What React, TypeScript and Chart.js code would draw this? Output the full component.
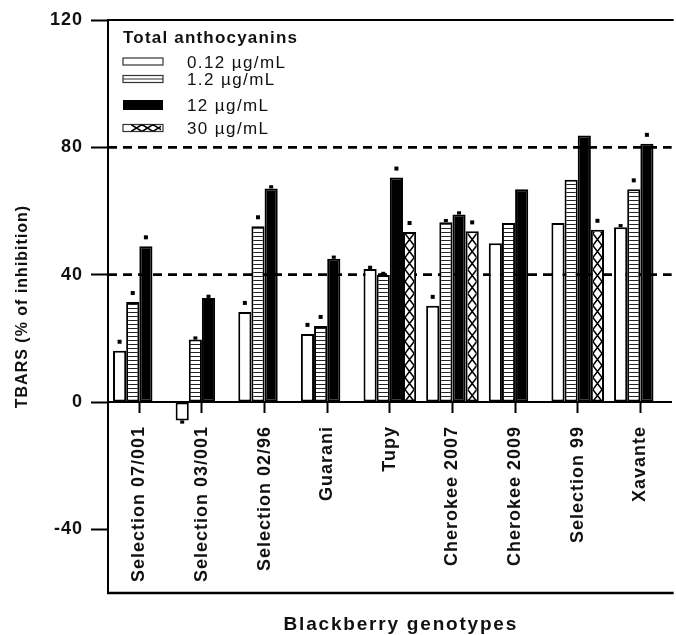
import React, { useEffect, useRef } from "react";
import { Chart, registerables } from "chart.js";

Chart.register(...registerables);

// ---------- data ----------
const genotypes = [
  "Selection 07/001",
  "Selection 03/001",
  "Selection 02/96",
  "Guarani",
  "Tupy",
  "Cherokee 2007",
  "Cherokee 2009",
  "Selection 99",
  "Xavante",
];
const seriesLabels = ["0.12 µg/mL", "1.2 µg/mL", "12 µg/mL", "30 µg/mL"];
const values012 = [16.1, -5.8, 28.3, 21.4, 41.8, 30.2, 49.9, 56.2, 54.9];
const values1_2 = [31.4, 19.6, 55.2, 23.9, 39.9, 56.5, 56.2, 69.8, 66.8];
const values12 = [48.9, 32.7, 67.1, 45.0, 70.5, 58.9, 66.8, 83.7, 81.1];
const values30 = [null, null, null, null, 53.4, 53.6, null, 54.1, null];
// small error caps (same units as the values)
const errors012 = [0, 1, 0, 0, 1, 0, 0, 0, 1];
const errors1_2 = [0, 1, 0, 0, 1, 1, 0, 0, 0];
const errors12 = [0, 1, 1, 1, 0, 1, 0, 0, 0];
const errors30 = [0, 0, 0, 0, 0, 0, 0, 0, 0];
// significance markers (1 = marked)
const signif012 = [1, 0, 1, 1, 0, 1, 0, 0, 0];
const signif1_2 = [1, 0, 1, 1, 0, 0, 0, 0, 1];
const signif12 = [1, 0, 0, 0, 1, 0, 0, 0, 1];
const signif30 = [0, 0, 0, 0, 1, 1, 0, 1, 0];
const yTickValues = [-40, 0, 40, 80, 120];
const referenceLines = [40, 80];
const legendTitle = "Total anthocyanins";
const xAxisTitle = "Blackberry genotypes";
const yAxisTitle = "TBARS (% of inhibition)";

const errorsBySeries = [errors012, errors1_2, errors12, errors30];
const signifBySeries = [signif012, signif1_2, signif12, signif30];

const FONT = 'Arial, "Liberation Sans", Helvetica, sans-serif';

function makeStripePattern(ctx: CanvasRenderingContext2D) {
  const c = document.createElement("canvas");
  c.width = 4;
  c.height = 4;
  const g = c.getContext("2d")!;
  g.fillStyle = "#ffffff";
  g.fillRect(0, 0, 4, 4);
  g.fillStyle = "#222222";
  g.fillRect(0, 0, 4, 1);
  return ctx.createPattern(c, "repeat");
}

function drawCrosses(ctx: any, L: number, T: number, R: number, B: number, cell: number, vertical: boolean) {
  ctx.save();
  ctx.beginPath();
  ctx.rect(L, T, R - L, B - T);
  ctx.clip();
  ctx.strokeStyle = "#000";
  ctx.lineWidth = 1.5;
  ctx.beginPath();
  if (vertical) {
    for (let yy = B; yy > T - cell; yy -= cell) {
      ctx.moveTo(L, yy);
      ctx.lineTo(R, yy - cell);
      ctx.moveTo(R, yy);
      ctx.lineTo(L, yy - cell);
    }
  } else {
    for (let xx = L; xx < R; xx += cell) {
      ctx.moveTo(xx, T);
      ctx.lineTo(xx + cell, B);
      ctx.moveTo(xx + cell, T);
      ctx.lineTo(xx, B);
    }
  }
  ctx.stroke();
  ctx.restore();
}

export default function App() {
  const ref = useRef<HTMLCanvasElement>(null);

  useEffect(() => {
    const canvas = ref.current!;
    const ctx0 = canvas.getContext("2d")!;
    const stripes = makeStripePattern(ctx0);

    const spacing = {
      id: "spacing",
      beforeUpdate(chart: any) {
        chart.ctx.letterSpacing = "1px";
      },
      beforeDraw(chart: any) {
        chart.ctx.letterSpacing = "1px";
      },
    };

    const refLinesPlugin = {
      id: "refLines",
      beforeDatasetsDraw(chart: any) {
        const { ctx, chartArea } = chart;
        const ys = chart.scales.y;
        ctx.save();
        ctx.strokeStyle = "#000";
        ctx.lineWidth = 2.6;
        ctx.setLineDash([9, 6]);
        referenceLines.forEach((v) => {
          const y = ys.getPixelForValue(v);
          ctx.beginPath();
          ctx.moveTo(chartArea.left, y);
          ctx.lineTo(chartArea.right, y);
          ctx.stroke();
        });
        ctx.restore();
      },
    };

    const marksPlugin = {
      id: "marks",
      afterDatasetsDraw(chart: any) {
        const { ctx } = chart;
        const ys = chart.scales.y;
        // cross pattern for the 30 µg/mL series
        const meta3 = chart.getDatasetMeta(3);
        meta3.data.forEach((el: any, i: number) => {
          const v = chart.data.datasets[3].data[i];
          if (v == null) return;
          const p = el.getProps(["x", "y", "base", "width"], true);
          const L = p.x - p.width / 2 + 2;
          const R = p.x + p.width / 2 - 2;
          const T = Math.min(p.y, p.base) + 2;
          const B = Math.max(p.y, p.base);
          drawCrosses(ctx, L, T, R, B, 12, true);
        });
        // error caps and significance markers
        chart.data.datasets.forEach((ds: any, di: number) => {
          const meta = chart.getDatasetMeta(di);
          meta.data.forEach((el: any, i: number) => {
            const v = ds.data[i];
            if (v == null) return;
            const x = el.x;
            const sign = v < 0 ? -1 : 1;
            const e = errorsBySeries[di][i] || 0;
            const yv = ys.getPixelForValue(v);
            const yt = ys.getPixelForValue(v + sign * e);
            ctx.save();
            ctx.fillStyle = "#000";
            if (e > 0) ctx.fillRect(x - 2, Math.min(yv, yt), 4, Math.abs(yt - yv));
            if (signifBySeries[di][i]) {
              const yd = yt - sign * 9;
              ctx.fillRect(x - 2, yd - 2, 4, 4);
            }
            ctx.restore();
          });
        });
      },
    };

    const framePlugin = {
      id: "frame",
      afterDraw(chart: any) {
        const { ctx, chartArea } = chart;
        ctx.save();
        ctx.strokeStyle = "#000";
        ctx.lineWidth = 2;
        ctx.beginPath();
        ctx.moveTo(chartArea.left - 1, chartArea.top);
        ctx.lineTo(chartArea.right + 2, chartArea.top);
        ctx.stroke();
        ctx.lineWidth = 2.5;
        ctx.beginPath();
        ctx.moveTo(chartArea.left - 1, chartArea.bottom);
        ctx.lineTo(chartArea.right + 2, chartArea.bottom);
        ctx.stroke();

        // x-axis title
        ctx.fillStyle = "#111";
        ctx.letterSpacing = "1.8px";
        ctx.font = `bold 19px ${FONT}`;
        ctx.textAlign = "center";
        ctx.textBaseline = "alphabetic";
        ctx.fillText(xAxisTitle, (chartArea.left + chartArea.right) / 2 + 11, 630);

        // legend
        const lx = chartArea.left + 15;
        ctx.textAlign = "left";
        ctx.letterSpacing = "1.2px";
        ctx.font = `bold 17px ${FONT}`;
        ctx.fillText(legendTitle, lx, 43);
        const rowCenters = [61.5, 79, 105, 128];
        const boxH = [7, 7, 10, 7];
        ctx.font = `17px ${FONT}`;
        ctx.letterSpacing = "1.4px";
        const ds = chart.data.datasets;
        ds.forEach((d: any, i: number) => {
          const cy = rowCenters[i];
          const h = boxH[i];
          const bx = lx;
          const bw = 40;
          const by = cy - h / 2;
          ctx.lineWidth = 1.2;
          ctx.strokeStyle = "#333";
          if (i === 2) {
            ctx.fillStyle = "#000";
            ctx.fillRect(bx, by, bw, h);
          } else {
            ctx.fillStyle = "#fff";
            ctx.fillRect(bx, by, bw, h);
            ctx.strokeRect(bx, by, bw, h);
            if (i === 1) {
              ctx.beginPath();
              ctx.moveTo(bx, cy);
              ctx.lineTo(bx + bw, cy);
              ctx.stroke();
            }
            if (i === 3) {
              drawCrosses(ctx, bx + 8, by, bx + bw - 2, by + h, 11, false);
            }
          }
          ctx.fillStyle = "#111";
          ctx.fillText(d.label, 187, cy + 6);
        });
        ctx.restore();
      },
    };

    const barBase = {
      borderColor: "#000",
      borderWidth: 2,
      borderSkipped: false,
      categoryPercentage: 0.84,
      barPercentage: 1.0,
    };

    const chart = new Chart(canvas, {
      type: "bar",
      data: {
        labels: genotypes,
        datasets: [
          { ...barBase, label: seriesLabels[0], data: values012, backgroundColor: "#ffffff" },
          { ...barBase, label: seriesLabels[1], data: values1_2, backgroundColor: stripes as any },
          { ...barBase, label: seriesLabels[2], data: values12, backgroundColor: "#000000" },
          { ...barBase, label: seriesLabels[3], data: values30 as any, backgroundColor: "#ffffff" },
        ],
      },
      options: {
        responsive: false,
        animation: false,
        events: [],
        layout: { padding: { left: 0, top: 20, right: 1, bottom: 42 } },
        plugins: {
          legend: { display: false },
          tooltip: { enabled: false },
        },
        scales: {
          x: {
            position: { y: 0 } as any,
            offset: true,
            grid: {
              display: true,
              drawOnChartArea: false,
              drawTicks: true,
              tickLength: 10,
              tickWidth: 2,
              tickColor: "#000",
              offset: false,
            },
            border: { display: true, color: "#000", width: 2 },
            ticks: {
              autoSkip: false,
              maxRotation: 90,
              minRotation: 90,
              padding: 14,
              color: "#111",
              font: { family: FONT, size: 18, weight: "bold" },
            },
          },
          y: {
            min: -60,
            max: 120,
            afterBuildTicks: (s: any) => {
              s.ticks = yTickValues.map((v) => ({ value: v }));
            },
            afterFit: (s: any) => {
              s.width = 108;
            },
            grid: {
              drawOnChartArea: false,
              drawTicks: true,
              tickLength: 17,
              tickWidth: 2,
              tickColor: "#000",
            },
            border: { display: true, color: "#000", width: 2 },
            ticks: {
              padding: 8,
              color: "#111",
              font: { family: FONT, size: 18, weight: "bold" },
            },
            title: {
              display: true,
              text: yAxisTitle,
              color: "#111",
              font: { family: FONT, size: 16, weight: "bold" },
              padding: { top: 13, bottom: 0 },
            },
          },
        },
      },
      plugins: [spacing, refLinesPlugin, marksPlugin, framePlugin],
    });
    return () => chart.destroy();
  }, []);

  return (
    <div style={{ position: "fixed", left: 0, top: 0, width: 676, height: 635, background: "#fff" }}>
      <canvas ref={ref} width={676} height={635} style={{ display: "block" }} />
    </div>
  );
}
